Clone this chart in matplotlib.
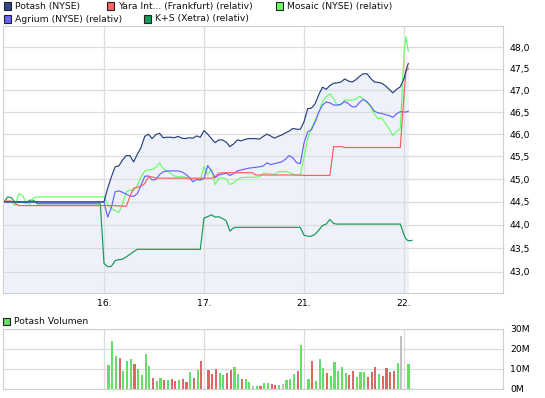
import matplotlib
matplotlib.use("Agg")
import matplotlib.pyplot as plt
import numpy as np
from matplotlib.patches import Rectangle
from matplotlib.ticker import FixedLocator, NullLocator, FuncFormatter

nan = float("nan")

# trading days on the x axis (15. is the day before the first label)
day_labels = ["16.", "17.", "21.", "22."]
day_pos = [-1, 0, 1, 2]          # 15., 16., 17., 21. full sessions
slots_per_day = 27
last_day_times = [3.0, 3.02, 3.043, 3.08]   # 22. (only the start)

# price lines (relative to Potash), one row per day: 15., 16., 17., 21., 22.
potash = [
    44.50, 44.50, 44.50, 44.50, 44.50, 44.50, 44.50, 44.50, 44.50, 44.50, 44.50, 44.50, 44.50, 44.50,
    44.50, 44.50, 44.50, 44.50, 44.50, 44.50, 44.50, 44.50, 44.50, 44.50, 44.50, 44.50, 44.50,
    44.50, 44.80, 45.05, 45.27, 45.29, 45.42, 45.52, 45.52, 45.38, 45.55, 45.70, 45.95, 46.00, 45.90,
    45.99, 46.02, 45.92, 45.93, 45.93, 45.92, 45.95, 45.91, 45.90, 45.92, 45.91, 45.96, 45.93,
    46.08, 46.00, 45.90, 45.81, 45.87, 45.87, 45.82, 45.72, 45.78, 45.87, 45.85, 45.88, 45.90, 45.90,
    45.90, 45.89, 45.95, 46.00, 45.96, 45.91, 45.95, 45.98, 46.03, 46.07, 46.13, 46.11, 46.11,
    46.28, 46.58, 46.59, 46.69, 46.90, 47.07, 47.02, 47.11, 47.16, 47.17, 47.19, 47.26, 47.21, 47.19,
    47.24, 47.32, 47.38, 47.38, 47.27, 47.19, 47.18, 47.16, 47.10, 47.02, 46.94, 47.02, 47.08,
    47.27, 47.45, 47.62, nan,
]
yara = [
    44.52, 44.52, 44.52, 44.47, 44.42, 44.42, 44.42, 44.42, 44.42, 44.42, 44.42, 44.42, 44.42, 44.42,
    44.42, 44.42, 44.42, 44.42, 44.42, 44.42, 44.42, 44.42, 44.42, 44.42, 44.42, 44.42, 44.42,
    44.42, 44.42, 44.42, 44.42, 44.41, 44.41, 44.40, 44.62, 44.80, 44.82, 44.84, 44.90, 45.05, 45.05,
    45.02, 45.02, 45.02, 45.02, 45.02, 45.02, 45.02, 45.02, 45.02, 45.02, 45.02, 45.02, 45.02,
    45.02, 45.02, 45.02, 45.05, 45.13, 45.14, 45.14, 45.14, 45.14, 45.14, 45.14, 45.14, 45.14, 45.14,
    45.09, 45.09, 45.09, 45.09, 45.09, 45.09, 45.09, 45.09, 45.09, 45.09, 45.09, 45.09, 45.09,
    45.08, 45.08, 45.08, 45.08, 45.08, 45.08, 45.08, 45.08, 45.72, 45.72, 45.72, 45.70, 45.70, 45.70,
    45.70, 45.70, 45.70, 45.70, 45.70, 45.70, 45.70, 45.70, 45.70, 45.70, 45.70, 45.70, 45.70,
    46.90, 47.45, 47.50, nan,
]
mosaic = [
    44.50, 44.50, 44.50, 44.42, 44.68, 44.64, 44.48, 44.45, 44.59, 44.61, 44.61, 44.61, 44.61, 44.61,
    44.61, 44.61, 44.61, 44.61, 44.61, 44.61, 44.61, 44.61, 44.61, 44.61, 44.61, 44.61, 44.61,
    44.61, 44.45, 44.36, 44.31, 44.27, 44.45, 44.72, 44.76, 44.75, 44.86, 45.05, 45.18, 45.20, 45.21,
    45.26, 45.36, 45.23, 45.18, 45.12, 45.07, 45.04, 45.06, 45.04, 45.00, 44.99, 45.00, 44.97,
    45.28, 45.10, 45.22, 44.88, 45.02, 45.03, 45.00, 44.88, 44.92, 44.99, 45.03, 45.04, 45.04, 45.04,
    45.04, 45.05, 45.13, 45.12, 45.11, 45.10, 45.16, 45.16, 45.17, 45.15, 45.11, 45.08, 45.08,
    45.48, 45.90, 46.13, 46.31, 46.50, 46.74, 46.85, 46.92, 46.80, 46.65, 46.66, 46.78, 46.77, 46.77,
    46.80, 46.86, 46.79, 46.71, 46.63, 46.45, 46.35, 46.37, 46.24, 46.12, 45.97, 46.06, 46.12,
    47.85, 48.25, 47.90, nan,
]
agrium = [
    44.50, 44.50, 44.50, 44.50, 44.50, 44.50, 44.50, 44.50, 44.50, 44.50, 44.50, 44.50, 44.50, 44.50,
    44.50, 44.50, 44.50, 44.50, 44.50, 44.50, 44.50, 44.50, 44.50, 44.50, 44.50, 44.50, 44.50,
    44.50, 44.17, 44.38, 44.72, 44.74, 44.71, 44.67, 44.63, 44.62, 44.68, 44.86, 45.06, 45.07, 44.98,
    44.99, 45.10, 45.16, 45.18, 45.18, 45.18, 45.18, 45.16, 45.11, 45.04, 44.94, 44.99, 44.98,
    45.01, 45.30, 45.18, 45.03, 45.09, 45.11, 45.13, 45.08, 45.12, 45.18, 45.20, 45.22, 45.24, 45.25,
    45.26, 45.27, 45.29, 45.36, 45.32, 45.34, 45.36, 45.38, 45.44, 45.52, 45.47, 45.36, 45.34,
    45.80, 46.05, 46.10, 46.27, 46.50, 46.66, 46.73, 46.71, 46.66, 46.66, 46.68, 46.74, 46.69, 46.62,
    46.62, 46.72, 46.79, 46.74, 46.64, 46.52, 46.48, 46.47, 46.44, 46.42, 46.38, 46.46, 46.51,
    46.50, 46.50, 46.52, nan,
]
ks = [
    44.50, 44.61, 44.59, 44.49, 44.49, 44.49, 44.48, 44.54, 44.53, 44.46, 44.46, 44.46, 44.46, 44.46,
    44.46, 44.46, 44.46, 44.46, 44.46, 44.46, 44.46, 44.46, 44.46, 44.46, 44.46, 44.46, 44.46,
    43.18, 43.11, 43.12, 43.24, 43.26, 43.27, 43.32, 43.37, 43.43, 43.48, 43.48, 43.48, 43.48, 43.48,
    43.48, 43.48, 43.48, 43.48, 43.48, 43.48, 43.48, 43.48, 43.48, 43.48, 43.48, 43.48, 43.48,
    44.15, 44.18, 44.22, 44.17, 44.18, 44.14, 44.09, 43.87, 43.94, 43.95, 43.95, 43.95, 43.95, 43.95,
    43.95, 43.95, 43.95, 43.95, 43.95, 43.95, 43.95, 43.95, 43.95, 43.95, 43.95, 43.95, 43.95,
    43.78, 43.76, 43.76, 43.80, 43.89, 43.99, 44.02, 44.12, 44.03, 44.02, 44.02, 44.02, 44.02, 44.02,
    44.02, 44.02, 44.02, 44.02, 44.02, 44.02, 44.02, 44.02, 44.02, 44.02, 44.02, 44.02, 44.02,
    43.79, 43.70, 43.66, 43.67,
]

# Potash volume in millions, 15-minute bars; g = up, r = down, n = unchanged
vol_16 = [12.2, 24.2, 16.7, 15.7, 9.2, 14.2, 15.2, 12.7, 10.2, 7.2, 17.7, 11.7, 5.7,
          4.2, 5.7, 4.7, 4.7, 5.2, 4.2, 4.7, 5.2, 3.7, 8.7, 5.7, 9.7, 14.2]
dir_16 = "gggrgggrggggrggrgrrgrrgrgr"
vol_17 = [9.7, 7.7, 10.2, 8.2, 7.2, 8.2, 9.7, 11.2, 7.7, 5.2, 5.2, 3.7, 1.7,
          1.7, 1.7, 3.2, 3.2, 2.7, 2.0, 2.0, 2.7, 4.7, 5.2, 7.7, 9.2, 22.2]
dir_17 = "rrrggrrggrggngrggrrgngggrg"
vol_21 = [5.2, 14.2, 4.2, 15.2, 10.7, 8.2, 6.7, 13.7, 9.2, 11.2, 8.2, 7.2, 9.2,
          6.2, 8.7, 8.7, 6.2, 8.7, 11.2, 7.7, 6.7, 10.7, 8.7, 9.2, 13.2, 26.7]
dir_21 = "grgggrgggggrrgggrrrgrrrrgn"
vol_22 = [12.7]
dir_22 = "g"

W, H = 545, 398
fig = plt.figure(figsize=(W / 100, H / 100), dpi=100)
plt.rcParams["font.family"] = ["DejaVu Sans"]
FS = 6.7
GRID = "#dcdcdc"
LW = 0.85


def fig_box(x0, y0, x1, y1):
    return [x0 / W, 1 - y1 / H, (x1 - x0) / W, (y1 - y0) / H]


def legend_item(x, y, color, label):
    fig.add_artist(Rectangle((x / W, 1 - (y + 3.5) / H), 7 / W, 7 / H,
                             transform=fig.transFigure, facecolor=color,
                             edgecolor="#222222", linewidth=0.8))
    fig.text((x + 11) / W, 1 - y / H, label, fontsize=FS, va="center",
             ha="left", color="#111111")


times = []
for d in day_pos:
    for k in range(slots_per_day):
        times.append(d + k / slots_per_day)
times = np.array(times + last_day_times)

ax = fig.add_axes(fig_box(3, 26, 503, 293))
ax.set_yscale("log")
ax.fill_between(times, potash, 42.0, color="#eef1f9", lw=0, zorder=0.2)
ax.plot(times, ks, color="#139a55", lw=LW)
ax.plot(times, mosaic, color="#66ff66", lw=LW)
ax.plot(times, agrium, color="#6464ff", lw=LW)
ax.plot(times, yara, color="#ff5c5c", lw=LW)
ax.plot(times, potash, color="#263f7e", lw=LW)

ax.set_xlim(-1.01, 3.99)
ax.set_ylim(42.56, 48.50)
yticks = [43.0, 43.5, 44.0, 44.5, 45.0, 45.5, 46.0, 46.5, 47.0, 47.5, 48.0]
ax.yaxis.set_major_locator(FixedLocator(yticks))
ax.yaxis.set_minor_locator(NullLocator())
ax.yaxis.set_major_formatter(FuncFormatter(lambda v, p: f"{v:.1f}".replace(".", ",")))
ax.yaxis.tick_right()
ax.set_xticks([0, 1, 2, 3])
ax.set_xticklabels(day_labels)
ax.tick_params(axis="y", length=0, pad=5, labelsize=FS)
ax.tick_params(axis="x", length=0, pad=4, labelsize=FS)
ax.grid(True, color=GRID, lw=0.9)
ax.set_axisbelow(True)
for s in ax.spines.values():
    s.set_color("#cfcfcf")

# volume panel
vax = fig.add_axes(fig_box(3, 329, 503, 389))
bar_colors = {"g": "#66dd66", "r": "#dd6666", "n": "#c0c0c0"}
for d, vols, dirs in [(0, vol_16, dir_16), (1, vol_17, dir_17),
                      (2, vol_21, dir_21), (3, vol_22, dir_22)]:
    xs = [d + (i + 1.2) / 26.9 for i in range(len(vols))]
    vax.bar(xs, vols, width=0.021, color=[bar_colors[c] for c in dirs], lw=0)
vax.set_xlim(-1.01, 3.99)
vax.set_ylim(0, 30)
vax.set_yticks([0, 10, 20, 30])
vax.set_yticklabels(["0M", "10M", "20M", "30M"])
vax.yaxis.tick_right()
vax.set_xticks([0, 1, 2, 3])
vax.set_xticklabels([])
vax.tick_params(axis="y", length=0, pad=5, labelsize=FS)
vax.tick_params(axis="x", length=0)
vax.grid(True, color=GRID, lw=0.9)
vax.set_axisbelow(True)
for s in vax.spines.values():
    s.set_color("#cfcfcf")

legend_item(4, 6, "#2b4a8a", "Potash (NYSE)")
legend_item(107, 6, "#ff6666", "Yara Int... (Frankfurt) (relativ)")
legend_item(276, 6, "#66ff66", "Mosaic (NYSE) (relativ)")
legend_item(4, 19, "#6666ff", "Agrium (NYSE) (relativ)")
legend_item(144, 19, "#119955", "K+S (Xetra) (relativ)")
legend_item(3, 321, "#66dd66", "Potash Volumen")

fig.savefig("out.png", dpi=100)
